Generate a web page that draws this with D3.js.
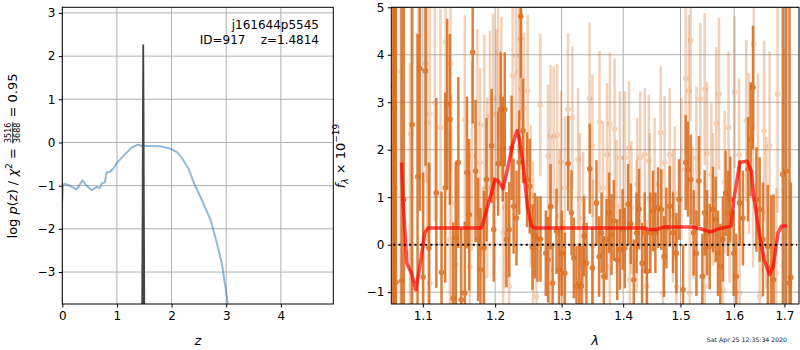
<!DOCTYPE html>
<html>
<head>
<meta charset="utf-8">
<script src="https://cdn.jsdelivr.net/npm/d3@7"></script>
<style>
  body { margin: 0; background: #fff; }
  text { font-family: "DejaVu Sans", sans-serif; }
</style>
</head>
<body>
<svg id="chart" width="800" height="350"></svg>
<script>
// ---- data: redshift fit (left panel) ----
const zGrid = [0, 0.01, 0.05, 0.14, 0.26, 0.37, 0.45, 0.54, 0.63, 0.68, 0.72, 0.78, 0.81, 0.87, 0.93, 1.0, 1.12, 1.27, 1.33, 1.39, 1.45, 1.6, 1.79, 1.97, 2.1, 2.19, 2.31, 2.43, 2.52, 2.71, 2.83, 2.92, 3.05];
const logPz = [-1.35, -0.98, -0.96, -1.0, -1.09, -0.88, -1.01, -1.1, -1.03, -1.06, -0.95, -0.92, -0.69, -0.68, -0.61, -0.47, -0.31, -0.12, -0.08, -0.05, -0.08, -0.08, -0.09, -0.14, -0.22, -0.36, -0.61, -1.0, -1.24, -1.78, -2.33, -2.8, -3.9];
const peakZ = [1.462, 1.470, 1.476, 1.4814, 1.487, 1.493, 1.501];
const peakLogP = [-3.9, -1.5, 0.8, 2.27, 0.8, -1.5, -3.9];
const zTicks = [0, 1, 2, 3, 4];
const pzTicks = [-3, -2, -1, 0, 1, 2, 3];

// ---- data: spectrum (right panel) ----
const darkLam = [1.0614, 1.0628, 1.065, 1.0722, 1.075, 1.086, 1.093, 1.096, 1.1004, 1.1035, 1.108, 1.118, 1.125, 1.130, 1.1327, 1.1364, 1.141, 1.1445, 1.148, 1.152, 1.157, 1.160, 1.163, 1.168, 1.172, 1.1757, 1.179, 1.184, 1.1876, 1.195, 1.198, 1.2043, 1.208, 1.211, 1.214, 1.2165, 1.2205, 1.224, 1.227, 1.2313, 1.2352, 1.2377, 1.241, 1.247, 1.251, 1.2552, 1.2587, 1.2627, 1.2673, 1.2755, 1.279, 1.2828, 1.286, 1.292, 1.296, 1.300, 1.305, 1.3103, 1.3155, 1.3192, 1.3234, 1.3276, 1.3314, 1.3356, 1.3395, 1.3448, 1.349, 1.3557, 1.360, 1.364, 1.3677, 1.3722, 1.3765, 1.3804, 1.3843, 1.390, 1.3945, 1.399, 1.4028, 1.4083, 1.4129, 1.418, 1.4227, 1.427, 1.4322, 1.4368, 1.4407, 1.4466, 1.4512, 1.4553, 1.460, 1.4658, 1.4705, 1.4747, 1.4806, 1.4866, 1.4926, 1.4973, 1.5046, 1.5094, 1.5136, 1.5185, 1.524, 1.529, 1.5337, 1.540, 1.5443, 1.5487, 1.5536, 1.5598, 1.5648, 1.5692, 1.5737, 1.5786, 1.5837, 1.5881, 1.5927, 1.5991, 1.6042, 1.6107, 1.6171, 1.627, 1.6322, 1.6368, 1.6435, 1.650, 1.6565, 1.6664, 1.6733, 1.6779, 1.6967, 1.7036, 1.7103, 1.713];
const darkFlux = [3.36, 2.89, -0.79, -0.76, 0.95, 2.53, 1.43, 3.71, -0.68, 3.66, -0.07, 1.09, -0.58, 1.2, 2.96, 2.64, -1.13, 0.14, 1.73, -1.16, -1.02, 1.52, 0.63, 4.05, 1.55, 0.11, -0.53, -0.07, 1.37, 2.08, 0.32, 1.71, 2.85, 2.01, 2.85, 0.11, 0.32, 2.04, 0.81, 0.56, 1.73, 4.81, 2.4, 1.37, 1.23, -0.05, 0.19, 0.12, 0.12, -0.18, -0.32, 0.8, -0.81, 0.28, -0.53, -0.18, -0.6, 1.71, 0.67, -0.28, -0.88, -0.82, -0.87, 0.18, -0.39, 1.6, -0.49, 0.88, -0.25, 0.25, -0.67, 0.11, 0.67, 0.21, 0.51, -0.32, -0.1, 0.32, -0.07, 0.85, 0.44, -0.74, 0.25, 0.75, -0.39, 0.25, -0.56, 0.25, 0.71, 0.25, 0.78, 0.74, -0.25, 0.35, 0.81, 0.25, -0.18, 0.95, -0.95, 1.73, 1.59, 1.37, 0.25, -0.18, 1.34, -0.67, 0.67, 0.25, -0.04, 0.74, 0.53, -0.18, -0.46, 0.12, 1.08, 0.66, 0.95, -0.18, -0.67, 0.88, 0.56, 1.59, 2.22, 3.31, 0.95, 0.74, 0.11, -0.04, -0.46, -0.74, 1.48, 1.55, -0.81, -0.69];
const darkErr = [8, 8, 8, 8, 8, 4, 3, 3, 2.2, 2,
    1.8, 2, 1.7, 2, 1.8, 1.8, 1.6, 1.6, 1.8, 1.5,
    1.5, 1.6, 1.6, 1.5, 1.5, 1.3, 1.3, 1.2, 1.3, 1.2,
    1.1, 1.1, 1.2, 1.1, 1.2, 1.0, 1.0, 1.1, 1.0, 1.0,
    1.1, 1.3, 1.1, 1.0, 1.0, 0.9, 0.9, 0.9, 0.9, 0.9,
    0.9, 0.9, 0.85, 0.9, 0.85, 0.9, 0.85, 1.0, 0.9, 0.85,
    0.85, 0.85, 0.85, 0.85, 0.85, 0.95, 0.85, 0.9, 0.85, 0.85,
    0.85, 0.85, 0.85, 0.85, 0.85, 0.85, 0.85, 0.85, 0.85, 0.85,
    0.85, 0.85, 0.85, 0.85, 0.85, 0.85, 0.85, 0.85, 0.85, 0.85,
    0.85, 0.85, 0.85, 0.85, 0.85, 0.85, 0.85, 0.85, 0.95, 1.0,
    1.0, 0.95, 0.9, 0.9, 0.95, 0.9, 0.9, 0.9, 0.9, 0.9,
    0.9, 0.9, 0.9, 0.9, 0.9, 0.9, 0.9, 0.9, 0.9, 0.9,
    1.0, 1.1, 1.2, 1.3, 1.1, 1.1, 1.2, 1.3, 1.5, 1.8,
    8, 8, 8, 2];

const lightLam = [1.0643, 1.071, 1.083, 1.0843, 1.094, 1.104, 1.1057, 1.1093, 1.1093, 1.116, 1.1236, 1.1306, 1.1364, 1.1373, 1.1385, 1.1445, 1.157, 1.164, 1.167, 1.1746, 1.1785, 1.1828, 1.1846, 1.1886, 1.1925, 1.197, 1.2017, 1.2043, 1.209, 1.2115, 1.214, 1.2205, 1.2255, 1.2302, 1.2343, 1.2372, 1.2386, 1.2425, 1.248, 1.2527, 1.256, 1.2612, 1.267, 1.279, 1.2816, 1.2828, 1.2876, 1.293, 1.2972, 1.299, 1.3024, 1.305, 1.31, 1.317, 1.326, 1.3287, 1.334, 1.334, 1.3445, 1.349, 1.3502, 1.3607, 1.3665, 1.373, 1.3776, 1.3777, 1.3856, 1.3888, 1.3945, 1.4028, 1.4098, 1.4111, 1.414, 1.4227, 1.424, 1.429, 1.4368, 1.4397, 1.444, 1.4455, 1.454, 1.4646, 1.4688, 1.4717, 1.4806, 1.4866, 1.4896, 1.4926, 1.5016, 1.5094, 1.5152, 1.5167, 1.5185, 1.5228, 1.529, 1.5362, 1.5443, 1.5443, 1.5487, 1.5567, 1.5598, 1.566, 1.5712, 1.5786, 1.5818, 1.5893, 1.5913, 1.6011, 1.6095, 1.6107, 1.6236, 1.6288, 1.6368, 1.6381, 1.6468, 1.650, 1.659, 1.6633, 1.6698, 1.6833, 1.686, 1.700];
const lightFlux = [1.2, 3.64, -0.18, 2.33, 4.42, 3.81, 2.57, 2.75, -0.81, 2.99, 2.47, 4.28, 0.11, 3.81, 0.88, -0.42, 2.63, -0.46, 1.87, 2.54, 1.73, -0.67, 2.52, 1.2, 2.71, 3.07, 2.75, 4.05, 3.1, 0.25, 0.78, -0.88, 3.56, 3.98, 3.63, 4.33, 3.28, 2.87, 3.24, 1.02, 0.25, -1.09, 2.94, 1.87, -0.53, 2.29, 2.26, 2.31, 0.6, 1.74, -0.88, 1.2, 2.85, 2.68, 1.8, 0.95, 0.56, -0.95, 3.08, 2.08, -0.03, 2.59, 1.2, 1.9, -0.46, 2.54, 2.43, 0.81, 1.83, 1.83, 2.04, -0.74, 0.78, 0.39, 1.27, 1.83, 1.9, -0.88, 1.76, 0.95, 1.27, 2.36, -1.02, 1.73, 1.9, 0.6, 1.09, -0.88, 1.59, 3.5, 3.24, -1.02, 4.3, 0.67, 1.83, 3.07, 3.28, -0.88, 1.92, 1.48, 0.95, 2.56, 3.17, -0.95, 1.32, 2.47, 0.6, 3.21, 1.9, -1.02, 2.61, 1.92, 1.02, 4.23, 1.8, -1.09, 2.4, 0.67, 2.08, -0.6, 3.17, 1.16];
const lightErr = [6, 5, 4, 4, 3, 2.5, 2.5, 2.5, 2.5, 2.5, 2.5, 2.5, 2.3, 2.3, 2.3, 2.2, 2.2, 2.0, 2.0, 2.0, 2.0, 1.9, 1.9, 1.9, 1.8, 1.8, 1.8, 1.8, 1.7, 1.6, 1.7, 1.6, 1.7, 1.7, 1.7, 1.7, 1.7, 1.6, 1.6, 1.5, 1.5, 1.4, 1.5, 1.5, 1.4, 1.5, 1.5, 1.5, 1.4, 1.5, 1.4, 1.5, 1.6, 1.5, 1.5, 1.4, 1.4, 1.4, 1.6, 1.5, 1.4, 1.5, 1.4, 1.5, 1.4, 1.5, 1.5, 1.4, 1.4, 1.4, 1.4, 1.4, 1.4, 1.4, 1.4, 1.4, 1.4, 1.4, 1.4, 1.4, 1.4, 1.4, 1.4, 1.4, 1.4, 1.4, 1.4, 1.4, 1.5, 1.6, 1.6, 1.4, 1.7, 1.4, 1.5, 1.6, 1.6, 1.4, 1.5, 1.5, 1.4, 1.6, 1.6, 1.4, 1.5, 1.6, 1.4, 1.6, 1.6, 1.4, 1.7, 1.7, 1.5, 1.8, 1.8, 1.5, 1.9, 1.6, 2.0, 1.8, 2.5, 3];

const modelLam = [1.0722, 1.074, 1.079, 1.085, 1.0908, 1.096, 1.1026, 1.107, 1.1805, 1.192, 1.200, 1.205, 1.2115, 1.218, 1.225, 1.232, 1.2355, 1.2415, 1.2475, 1.2535, 1.258, 1.434, 1.444, 1.457, 1.470, 1.523, 1.541, 1.555, 1.570, 1.594, 1.5995, 1.611, 1.625, 1.6335, 1.639, 1.649, 1.659, 1.670, 1.677, 1.687, 1.694, 1.705];
const modelFlux = [1.73, 0.95, -0.39, -0.6, -0.95, -0.46, 0.25, 0.35, 0.35, 0.95, 1.37, 1.34, 1.18, 1.59, 2.08, 2.4, 2.22, 1.66, 0.81, 0.39, 0.35, 0.35, 0.32, 0.32, 0.37, 0.37, 0.32, 0.27, 0.33, 0.39, 0.95, 1.73, 1.76, 1.55, 0.95, 0.25, -0.32, -0.63, -0.46, 0.25, 0.39, 0.4];
const lamTicks = [1.1, 1.2, 1.3, 1.4, 1.5, 1.6, 1.7];
const fluxTicks = [-1, 0, 1, 2, 3, 4, 5];

const objName = "j161644p5545";
const objInfo = "ID=917    z=1.4814";
const stamp = "Sat Apr 25 12:35:34 2020";

// ---- setup ----
const svg = d3.select("#chart");
const font = "DejaVu Sans, sans-serif";
const orange = "#d86b1c";

const L = { x0: 62.3, x1: 333.3, y0: 7.3, y1: 304 };
const R = { x0: 391.3, x1: 799, y0: 7.3, y1: 304 };

const xz = d3.scaleLinear().domain([0, 4.96]).range([L.x0, L.x1]);
const yp = d3.scaleLinear().domain([-3.74, 3.13]).range([L.y1, L.y0]);
const xl = d3.scaleLog().domain([1.059, 1.730]).range([R.x0, R.x1]);
const yf = d3.scaleLinear().domain([-1.25, 5]).range([R.y1, R.y0]);

const defs = svg.append("defs");
[["clipL", L], ["clipR", R]].forEach(([id, p]) => {
    defs.append("clipPath").attr("id", id).append("rect")
        .attr("x", p.x0).attr("y", p.y0)
        .attr("width", p.x1 - p.x0).attr("height", p.y1 - p.y0);
});

// grid lines for a panel
function grid(p, xs, xt, ys, yt) {
    const g = svg.append("g").attr("stroke", "#b0b0b0").attr("stroke-width", 1);
    g.selectAll(".gx").data(xt).enter().append("line")
        .attr("x1", d => xs(d)).attr("x2", d => xs(d))
        .attr("y1", p.y0).attr("y2", p.y1);
    g.selectAll(".gy").data(yt).enter().append("line")
        .attr("x1", p.x0).attr("x2", p.x1)
        .attr("y1", d => ys(d)).attr("y2", d => ys(d));
}

// axes + frame for a panel
function axes(p, xs, xt, xf, ys, yt) {
    const ax = svg.append("g").attr("transform", `translate(0,${p.y1})`)
        .call(d3.axisBottom(xs).tickValues(xt).tickFormat(xf).tickSize(3.5).tickPadding(3.5));
    const ay = svg.append("g").attr("transform", `translate(${p.x0},0)`)
        .call(d3.axisLeft(ys).tickValues(yt).tickFormat(d3.format("d")).tickSize(3.5).tickPadding(3.5));
    [ax, ay].forEach(a => {
        a.select(".domain").remove();
        a.attr("font-family", font).attr("font-size", 12);
        a.selectAll("text").attr("fill", "#000");
        a.selectAll("line").attr("stroke", "#000");
    });
    svg.append("rect").attr("x", p.x0).attr("y", p.y0)
        .attr("width", p.x1 - p.x0).attr("height", p.y1 - p.y0)
        .attr("fill", "none").attr("stroke", "#000").attr("stroke-width", 1);
}

// ---- left panel ----
grid(L, xz, zTicks, yp, pzTicks);

const gL = svg.append("g").attr("clip-path", "url(#clipL)");
gL.append("path")
    .datum(zGrid.map((z, i) => [z, logPz[i]]))
    .attr("d", d3.line().x(d => xz(d[0])).y(d => yp(d[1])))
    .attr("fill", "none").attr("stroke", "#1f77b4").attr("stroke-opacity", 0.5)
    .attr("stroke-width", 2);
gL.append("path")
    .datum(peakZ.map((z, i) => [z, peakLogP[i]]))
    .attr("d", d3.line().x(d => xz(d[0])).y(d => yp(d[1])))
    .attr("fill", "#444").attr("stroke", "#444").attr("stroke-width", 1.8);

axes(L, xz, zTicks, d3.format("d"), yp, pzTicks);

svg.append("text").attr("x", 319).attr("y", 29).attr("text-anchor", "end")
    .attr("font-size", 12).text(objName);
svg.append("text").attr("x", 319).attr("y", 44).attr("text-anchor", "end")
    .attr("font-size", 12).style("white-space", "pre").text(objInfo);

svg.append("text").attr("x", (L.x0 + L.x1) / 2).attr("y", 345).attr("text-anchor", "middle")
    .attr("font-size", 13).attr("font-style", "italic").text("z");

// left y label with stacked fraction
const gy = svg.append("g").attr("transform", "translate(17,156) rotate(-90)");
const gyi = gy.append("g");
const t1 = gyi.append("text").attr("font-size", 13).style("white-space", "pre");
t1.append("tspan").text("log ");
t1.append("tspan").attr("font-style", "italic").text("p");
t1.append("tspan").text("(");
t1.append("tspan").attr("font-style", "italic").text("z");
t1.append("tspan").text(") / ");
t1.append("tspan").attr("font-style", "italic").text("χ");
t1.append("tspan").attr("font-size", 9).attr("dy", -5).text("2");
t1.append("tspan").attr("dy", 5).text(" = ");
const w1 = t1.node().getComputedTextLength();
const num = gyi.append("text").attr("font-size", 8).attr("y", -6).text("3516");
const den = gyi.append("text").attr("font-size", 8).attr("y", 2.5).text("3688");
const wf = Math.max(num.node().getComputedTextLength(), den.node().getComputedTextLength());
num.attr("x", w1 + 1);
den.attr("x", w1 + 1);
gyi.append("line").attr("x1", w1 + 0.5).attr("x2", w1 + wf + 1.5)
    .attr("y1", -4.3).attr("y2", -4.3).attr("stroke", "#000").attr("stroke-width", 0.8);
const t3 = gyi.append("text").attr("font-size", 13).attr("x", w1 + wf + 2)
    .style("white-space", "pre").text(" = 0.95");
const total = w1 + wf + 2 + t3.node().getComputedTextLength();
gyi.attr("transform", `translate(${-total / 2},0)`);

// ---- right panel ----
grid(R, xl, lamTicks, yf, fluxTicks);

const gR = svg.append("g").attr("clip-path", "url(#clipR)");

// each error bar + marker drawn with its own alpha
function errPoints(lam, flux, err, opacity) {
    const pts = lam.map((l, i) => ({ l, f: flux[i], e: err[i] }));
    const g = gR.append("g");
    const m = g.selectAll("g").data(pts).enter().append("g").attr("opacity", opacity);
    m.append("line")
        .attr("x1", d => xl(d.l)).attr("x2", d => xl(d.l))
        .attr("y1", d => yf(d.f - d.e)).attr("y2", d => yf(d.f + d.e))
        .attr("stroke", orange).attr("stroke-width", 2.5);
    m.append("circle")
        .attr("cx", d => xl(d.l)).attr("cy", d => yf(d.f))
        .attr("r", 2.8).attr("fill", orange);
}
errPoints(lightLam, lightFlux, lightErr, 0.3);
errPoints(darkLam, darkFlux, darkErr, 0.85);

gR.append("path")
    .datum(modelLam.map((l, i) => [l, modelFlux[i]]))
    .attr("d", d3.line().x(d => xl(d[0])).y(d => yf(d[1])))
    .attr("fill", "none").attr("stroke", "red").attr("stroke-opacity", 0.7)
    .attr("stroke-width", 3.5).attr("stroke-linejoin", "round");

gR.append("line")
    .attr("x1", R.x0 + 2).attr("x2", R.x1 - 2)
    .attr("y1", yf(0)).attr("y2", yf(0))
    .attr("stroke", "#000").attr("stroke-width", 2).attr("stroke-dasharray", "2,3.3");

axes(R, xl, lamTicks, d3.format(".1f"), yf, fluxTicks);

svg.append("text").attr("x", (R.x0 + R.x1) / 2).attr("y", 345).attr("text-anchor", "middle")
    .attr("font-size", 13).attr("font-style", "italic").text("λ");

const gy2 = svg.append("g").attr("transform", "translate(345,156) rotate(-90)");
const tf = gy2.append("text").attr("font-size", 13).attr("text-anchor", "middle").style("white-space", "pre");
tf.append("tspan").attr("font-style", "italic").text("f");
tf.append("tspan").attr("font-style", "italic").attr("font-size", 9).attr("dy", 3).text("λ");
tf.append("tspan").attr("dy", -3).text(" × 10");
tf.append("tspan").attr("font-size", 9).attr("dy", -6).text("−19");

svg.append("text").attr("x", 787).attr("y", 342).attr("text-anchor", "end")
    .attr("font-size", 6.2).attr("fill", "#222").text(stamp);
</script>
</body>
</html>
